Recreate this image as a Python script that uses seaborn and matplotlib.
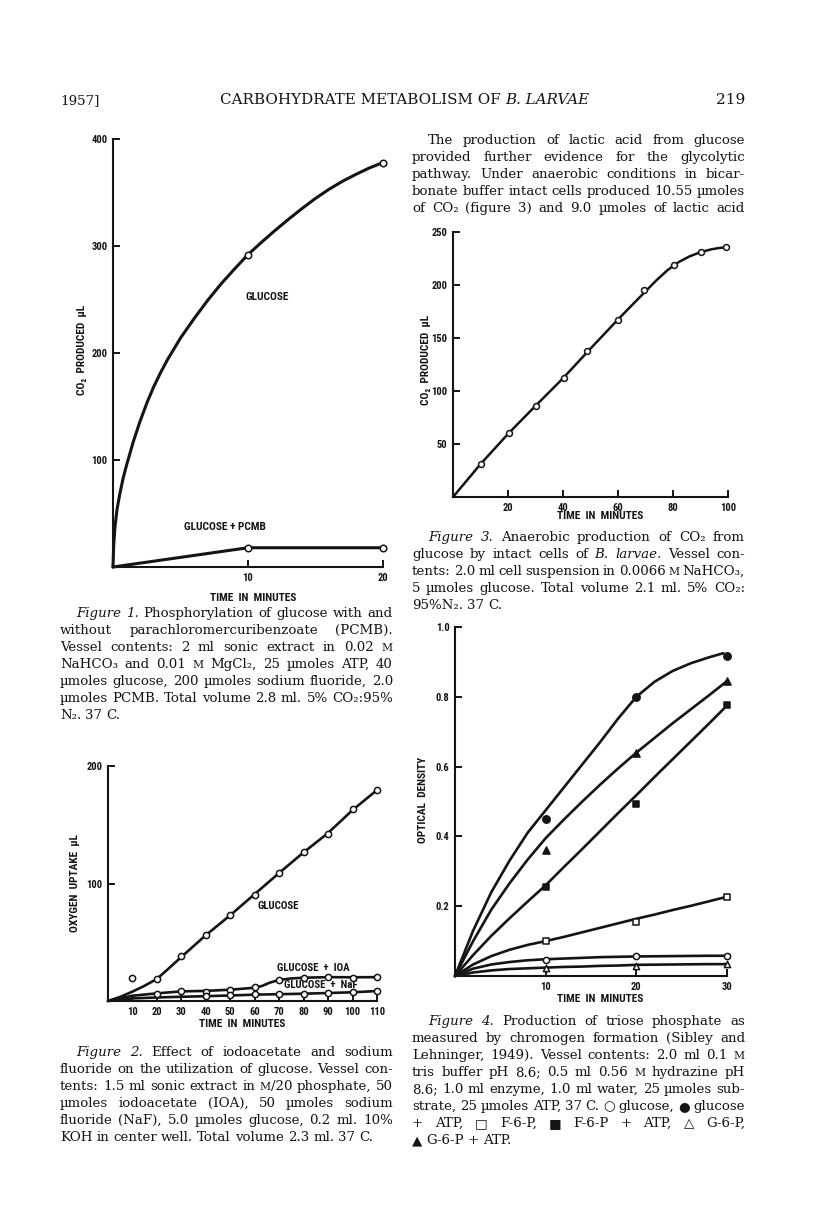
import numpy as np
import pandas as pd
import matplotlib
matplotlib.use("Agg")
import matplotlib.pyplot as plt
import seaborn as sns
from matplotlib import font_manager as fm

# ---------------- data ----------------
# Figure 1 (CO2 produced, microlitres vs minutes)
f1_glc_curve_t = [0, 0.05, 0.15, 0.3, 0.5, 0.75, 1.0, 1.5, 2.0, 2.5, 3.0, 3.5, 4.0, 5.0, 6.0,
                  7.0, 8.0, 9.0, 10, 11, 12, 13, 14, 15, 16, 17, 18, 19, 20]
f1_glc_curve_v = [0, 20, 38, 54, 68, 83, 95, 117, 136, 153, 168, 181, 193, 214, 232,
                  249, 264.5, 278.5, 292, 303.5, 314.5, 325, 335, 344.5, 353, 360.5, 367, 373, 378]
f1_glc_pts_t = [10, 20]
f1_glc_pts_v = [292, 378]
f1_pcmb_t = [0, 10, 20]
f1_pcmb_v = [0, 18, 18]
f1_pcmb_pts_t = [10, 20]
f1_pcmb_pts_v = [18, 18]

# Figure 2 (oxygen uptake)
f2_glc_line_t = [0, 5, 10, 15, 20, 25, 30, 40, 50, 60, 70, 80, 90, 100, 110]
f2_glc_line_v = [0, 3.5, 8, 13, 18.8, 28, 37.5, 56, 73, 91, 109, 126.5, 143, 162.5, 179.5]
f2_glc_pts_t = [10, 20, 30, 40, 50, 60, 70, 80, 90, 100, 110]
f2_glc_pts_v = [19.4, 18.8, 38.5, 56, 73, 90.6, 109, 127, 142.5, 163, 179.5]
f2_ioa_line_t = [0, 10, 20, 30, 40, 50, 60, 63, 66, 70, 75, 80, 90, 100, 110]
f2_ioa_line_v = [0, 4.5, 6.5, 8.2, 8.6, 9.6, 11.3, 12.8, 15.5, 18, 19.2, 19.8, 20.3, 20.2, 20.3]
f2_ioa_pts_t = [20, 30, 40, 50, 60, 70, 80, 90, 100, 110]
f2_ioa_pts_v = [6.2, 8.2, 7.9, 9.6, 11.9, 18, 19.5, 20.3, 19.8, 20.3]
f2_naf_line_t = [0, 10, 20, 30, 40, 50, 60, 70, 80, 90, 100, 110]
f2_naf_line_v = [0, 2.2, 3.0, 3.6, 4.1, 4.7, 5.4, 5.8, 6.2, 6.8, 7.4, 8.5]
f2_naf_pts_t = [40, 50, 60, 70, 80, 90, 100, 110]
f2_naf_pts_v = [4.0, 4.8, 5.6, 5.9, 6.2, 6.8, 7.3, 8.5]

# Figure 3 (anaerobic CO2)
f3_line_t = [0, 10, 20, 30, 40, 50, 60, 70, 74, 78, 82, 86, 90, 94, 97, 99.2]
f3_line_v = [0, 31, 59.5, 86, 112, 140, 167.5, 194, 204.5, 214, 221.5, 227, 231, 233.7, 235, 235.5]
f3_pts_t = [10.1, 20.2, 30, 40.2, 48.8, 59.9, 69.5, 80.2, 90, 99.2]
f3_pts_v = [31.4, 60.7, 85.8, 112.6, 137.7, 167.3, 195, 218.9, 230.8, 235.5]

# Figure 4 (optical density)
f4_times = [10, 20, 30]
f4_t = [0, 2, 4, 6, 8, 10, 12, 14, 16, 18, 20, 22, 24, 26, 28, 30]
f4_glc_atp_curve_t = [0, 2, 4, 6, 8, 10, 12, 14, 16, 18, 20, 22, 24, 26, 28, 29.6]
f4_glc_atp_curve_v = [0, 0.13, 0.24, 0.33, 0.41, 0.475, 0.54, 0.605, 0.67, 0.738, 0.80,
                      0.843, 0.874, 0.896, 0.913, 0.925]
f4_g6p_atp_curve_v = [0, 0.10, 0.19, 0.265, 0.333, 0.395, 0.448, 0.499, 0.548, 0.595, 0.64,
                      0.682, 0.724, 0.764, 0.804, 0.845]
f4_f6p_atp_curve_v = [0, 0.06, 0.115, 0.165, 0.213, 0.26, 0.312, 0.363, 0.415, 0.467, 0.518,
                      0.57, 0.621, 0.672, 0.723, 0.775]
f4_f6p_curve_v = [0, 0.033, 0.057, 0.075, 0.089, 0.10, 0.112, 0.125, 0.138, 0.151, 0.164,
                  0.176, 0.189, 0.201, 0.214, 0.227]
f4_glc_curve_v = [0, 0.021, 0.033, 0.04, 0.045, 0.048, 0.05, 0.052, 0.054, 0.055, 0.056,
                  0.0565, 0.057, 0.0575, 0.058, 0.058]
f4_g6p_curve_v = [0, 0.01, 0.016, 0.02, 0.022, 0.024, 0.026, 0.027, 0.029, 0.03, 0.032,
                  0.0325, 0.033, 0.0335, 0.034, 0.034]
f4_glc_pts = [0.047, 0.056, 0.058]
f4_glc_atp_pts = [0.449, 0.80, 0.918]
f4_f6p_pts = [0.10, 0.154, 0.227]
f4_f6p_atp_pts = [0.255, 0.494, 0.777]
f4_g6p_pts = [0.022, 0.030, 0.033]
f4_g6p_atp_pts = [0.361, 0.64, 0.844]

# ---------------- text ----------------
header_left = "1957]"
header_mid = [("CARBOHYDRATE METABOLISM OF ", "n"), ("B. LARVAE", "i")]
header_right = "219"

para_lines = [
    "The production of lactic acid from glucose",
    "provided further evidence for the glycolytic",
    "pathway. Under anaerobic conditions in bicar-",
    "bonate buffer intact cells produced 10.55 µmoles",
    "of CO₂ (figure 3) and 9.0 µmoles of lactic acid",
]
cap1_lines = [
    "*Figure* *1.* Phosphorylation of glucose with and",
    "without parachloromercuribenzoate (PCMB).",
    "Vessel contents: 2 ml sonic extract in 0.02 ~M",
    "NaHCO₃ and 0.01 ~M MgCl₂, 25 µmoles ATP, 40",
    "µmoles glucose, 200 µmoles sodium fluoride, 2.0",
    "µmoles PCMB. Total volume 2.8 ml. 5% CO₂:95%",
    "N₂. 37 C.",
]
cap2_lines = [
    "*Figure* *2.* Effect of iodoacetate and sodium",
    "fluoride on the utilization of glucose. Vessel con-",
    "tents: 1.5 ml sonic extract in ~M/20 phosphate, 50",
    "µmoles iodoacetate (IOA), 50 µmoles sodium",
    "fluoride (NaF), 5.0 µmoles glucose, 0.2 ml. 10%",
    "KOH in center well. Total volume 2.3 ml. 37 C.",
]
cap3_lines = [
    "*Figure* *3.* Anaerobic production of CO₂ from",
    "glucose by intact cells of *B.* *larvae.* Vessel con-",
    "tents: 2.0 ml cell suspension in 0.0066 ~M NaHCO₃,",
    "5 µmoles glucose. Total volume 2.1 ml. 5% CO₂:",
    "95%N₂. 37 C.",
]
cap4_lines = [
    "*Figure* *4.* Production of triose phosphate as",
    "measured by chromogen formation (Sibley and",
    "Lehninger, 1949). Vessel contents: 2.0 ml 0.1 ~M",
    "tris buffer pH 8.6; 0.5 ml 0.56 ~M hydrazine pH",
    "8.6; 1.0 ml enzyme, 1.0 ml water, 25 µmoles sub-",
    "strate, 25 µmoles ATP, 37 C. ○ glucose, ● glucose",
    "+ ATP, □ F-6-P, ■ F-6-P + ATP, △ G-6-P,",
    "▲ G-6-P + ATP.",
]

# ---------------- setup ----------------
W, H = 816, 1224
sns.set_theme(style="white")
names = {f.name for f in fm.fontManager.ttflist}
chart_fams = []
for cand in ["Liberation Sans Narrow", "Roboto Condensed", "Liberation Sans"]:
    if cand in names:
        chart_fams.append(cand)
        break
CHART = chart_fams + ["DejaVu Sans"]
SERIF = ["DejaVu Serif", "Liberation Serif", "DejaVu Sans"]
plt.rcParams["font.family"] = CHART
plt.rcParams["font.weight"] = "bold"

fig = plt.figure(figsize=(W / 100, H / 100), dpi=100)
fig.patch.set_facecolor("white")
renderer = fig.canvas.get_renderer()
INK = "#141414"
TICK = 7.6
LAB = 8.2
ANN = 8.2


def fx(x):
    return x / W


def fy(y):
    return 1 - y / H


def make_ax(x0, x1, ytop, ybot, xlim, ylim, xticks, yticks, yfmt=None):
    ax = fig.add_axes([fx(x0), fy(ybot), (x1 - x0) / W, (ybot - ytop) / H])
    ax.set_xlim(*xlim)
    ax.set_ylim(*ylim)
    ax.patch.set_alpha(0)
    for s in ["top", "right"]:
        ax.spines[s].set_visible(False)
    for s in ["left", "bottom"]:
        ax.spines[s].set_color(INK)
        ax.spines[s].set_linewidth(1.5)
    ax.set_xticks(xticks)
    ax.set_yticks(yticks)
    if yfmt:
        ax.set_yticklabels([yfmt.format(v) for v in yticks])
    ax.tick_params(direction="in", length=5, width=1.4, colors=INK,
                   labelsize=TICK, pad=4, bottom=True, left=True)
    for lab in ax.get_xticklabels() + ax.get_yticklabels():
        lab.set_fontweight("bold")
        lab.set_family(CHART)
    ax.grid(False)
    return ax


def line(ax, t, v, lw=1.9):
    sns.lineplot(x=t, y=v, ax=ax, color=INK, linewidth=lw, estimator=None,
                 sort=False, legend=False, clip_on=False)


def pts(ax, t, v, marker="o", filled=False, s=22):
    sns.scatterplot(x=t, y=v, ax=ax, marker=marker, s=s,
                    color=INK if filled else "white", edgecolor=INK,
                    linewidth=1.1, zorder=5, clip_on=False, legend=False)


def label(x, y, s, rot=0, size=LAB):
    fig.text(fx(x), fy(y), s, ha="center", va="center", rotation=rot,
             fontsize=size, fontweight="bold", family=CHART, color=INK)


# ---------------- Figure 1 ----------------
ax1 = make_ax(113, 383, 139, 567, (0, 20), (0, 400), [10, 20], [100, 200, 300, 400])
line(ax1, f1_glc_curve_t, f1_glc_curve_v, lw=2.2)
line(ax1, f1_pcmb_t, f1_pcmb_v, lw=2.2)
pts(ax1, f1_glc_pts_t, f1_glc_pts_v)
pts(ax1, f1_pcmb_pts_t, f1_pcmb_pts_v)
ax1.text(11.4, 252, "GLUCOSE", ha="center", va="center", fontsize=ANN, fontweight="bold", color=INK)
ax1.text(8.3, 37, "GLUCOSE + PCMB", ha="center", va="center", fontsize=ANN, fontweight="bold", color=INK)
label(82, 350, "CO₂  PRODUCED  µL", rot=90)
label(253, 598, "TIME  IN  MINUTES")

# ---------------- Figure 2 ----------------
ax2 = make_ax(108, 377, 766, 1001, (0, 110), (0, 200),
              [10, 20, 30, 40, 50, 60, 70, 80, 90, 100, 110], [100, 200])
ax2.tick_params(axis="x", length=4.5)
line(ax2, f2_glc_line_t, f2_glc_line_v)
line(ax2, f2_ioa_line_t, f2_ioa_line_v)
line(ax2, f2_naf_line_t, f2_naf_line_v)
pts(ax2, f2_glc_pts_t, f2_glc_pts_v, s=20)
pts(ax2, f2_ioa_pts_t, f2_ioa_pts_v, s=20)
pts(ax2, f2_naf_pts_t, f2_naf_pts_v, s=20)
ax2.text(69.5, 81, "GLUCOSE", ha="center", va="center", fontsize=ANN - 0.4, fontweight="bold", color=INK)
ax2.text(84, 28.5, "GLUCOSE  +  IOA", ha="center", va="center", fontsize=ANN - 0.4, fontweight="bold", color=INK)
ax2.text(87, 13.8, "GLUCOSE  +  NaF", ha="center", va="center", fontsize=ANN - 0.4, fontweight="bold", color=INK)
label(75, 883, "OXYGEN  UPTAKE  µL", rot=90)
label(242, 1024, "TIME  IN  MINUTES")

# ---------------- Figure 3 ----------------
ax3 = make_ax(453, 728, 232, 497, (0, 100), (0, 250),
              [20, 40, 60, 80, 100], [50, 100, 150, 200, 250])
line(ax3, f3_line_t, f3_line_v, lw=1.8)
pts(ax3, f3_pts_t, f3_pts_v, s=18)
label(426, 360, "CO₂  PRODUCED  µL", rot=90)
label(600, 516, "TIME  IN  MINUTES")

# ---------------- Figure 4 ----------------
ax4 = make_ax(455, 727, 627, 976, (0, 30), (0, 1.0), [10, 20, 30],
              [0.2, 0.4, 0.6, 0.8, 1.0], yfmt="{:.1f}")
line(ax4, f4_glc_atp_curve_t, f4_glc_atp_curve_v)
line(ax4, f4_t, f4_g6p_atp_curve_v)
line(ax4, f4_t, f4_f6p_atp_curve_v)
line(ax4, f4_t, f4_f6p_curve_v)
line(ax4, f4_t, f4_glc_curve_v)
line(ax4, f4_t, f4_g6p_curve_v)
pts(ax4, f4_times, f4_glc_pts, "o", False, 20)
pts(ax4, f4_times, f4_glc_atp_pts, "o", True, 28)
pts(ax4, f4_times, f4_f6p_pts, "s", False, 20)
pts(ax4, f4_times, f4_f6p_atp_pts, "s", True, 22)
pts(ax4, f4_times, f4_g6p_pts, "^", False, 20)
pts(ax4, f4_times, f4_g6p_atp_pts, "^", True, 26)
label(423, 800, "OPTICAL  DENSITY", rot=90)
label(600, 999, "TIME  IN  MINUTES")


# ---------------- body text ----------------
def parse_word(word):
    if len(word) > 2 and word.startswith("*") and word.endswith("*"):
        return [(word[1:-1], "i")]
    segs, buf, i = [], "", 0
    while i < len(word):
        c = word[i]
        if c == "~" and i + 1 < len(word):
            if buf:
                segs.append((buf, "n"))
                buf = ""
            segs.append((word[i + 1], "s"))
            i += 2
            continue
        buf += c
        i += 1
    if buf:
        segs.append((buf, "n"))
    return segs


def make_seg(text, style, size):
    kw = dict(family=SERIF, fontweight="normal", color=INK, va="baseline", ha="left")
    if style == "i":
        kw["style"] = "italic"
    sz = size * 0.8 if style == "s" else size
    t = fig.text(0, 0, text, fontsize=sz, **kw)
    w = t.get_window_extent(renderer).width
    return t, w


def measure(line_s, size):
    tot, n = 0, 0
    for w in line_s.split(" "):
        for tx, st in parse_word(w):
            t, wd = make_seg(tx, st, size)
            tot += wd
            t.remove()
        n += 1
    return tot, n


def paragraph(lines, x0, x1, yb0, dy, size, indent=16, justify_last=False):
    for li, ln in enumerate(lines):
        items = []
        for w in ln.split(" "):
            items.append([make_seg(tx, st, size) for tx, st in parse_word(w)])
        widths = [sum(s[1] for s in segs) for segs in items]
        left = x0 + (indent if li == 0 else 0)
        last = (li == len(lines) - 1) and not justify_last
        nat = size * 100 / 72 * 0.3
        if last or len(items) == 1:
            gap = nat
        else:
            gap = (x1 - left - sum(widths)) / (len(items) - 1)
        x = left
        yb = yb0 + li * dy
        for segs, wsum in zip(items, widths):
            xx = x
            for t, w in segs:
                t.set_position((fx(xx), fy(yb)))
                xx += w
            x += wsum + gap


COLW = 333
blocks = [(para_lines, True), (cap1_lines, False), (cap2_lines, False),
          (cap3_lines, False), (cap4_lines, False)]
ratio = 0
for lines, jl in blocks:
    for li, ln in enumerate(lines):
        if li == len(lines) - 1 and not jl:
            continue
        tot, n = measure(ln, 10)
        avail = COLW - (16 if li == 0 else 0)
        ratio = max(ratio, (tot + (n - 1) * 10 * 100 / 72 * 0.22) / avail)
BODY = min(10.0 / ratio, 10.5)

DY = 17
paragraph(para_lines, 412, 745, 144, DY, BODY, justify_last=True)
paragraph(cap1_lines, 60, 393, 617, DY, BODY)
paragraph(cap2_lines, 60, 393, 1056, DY, BODY)
paragraph(cap3_lines, 412, 745, 541, DY, BODY)
paragraph(cap4_lines, 412, 745, 1025, DY, BODY)

# header
HY = 104
fig.text(fx(60), fy(HY), header_left, family=SERIF, fontweight="normal",
         fontsize=BODY, color=INK, va="baseline", ha="left")
fig.text(fx(745), fy(HY), header_right, family=SERIF, fontweight="normal",
         fontsize=BODY * 1.15, color=INK, va="baseline", ha="right")
probe = [make_seg(txt, st, 10) for txt, st in header_mid]
pw = sum(w for _, w in probe)
for t, _ in probe:
    t.remove()
hsize = 10 * 367 / pw
hs = [make_seg(txt, st, hsize) for txt, st in header_mid]
totw = sum(w for _, w in hs)
xx = 405 - totw / 2
for t, w in hs:
    t.set_position((fx(xx), fy(HY)))
    xx += w

fig.savefig("out.png", dpi=100, facecolor="white")
